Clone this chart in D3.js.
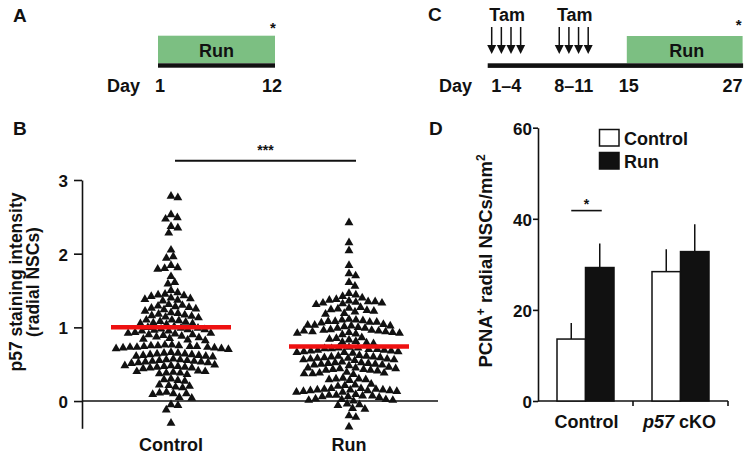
<!DOCTYPE html>
<html><head><meta charset="utf-8">
<script src="https://cdn.jsdelivr.net/npm/d3@7"></script>
<style>
body{margin:0;background:#fff}
svg{display:block}
text{font-family:"Liberation Sans",Arial,Helvetica,sans-serif;font-weight:bold;fill:#111}
</style>
</head><body>
<svg id="c" width="747" height="454"></svg>
<script>
// ---------- DATA ----------
// Panel A timeline
const runPeriodA = [1, 12];
const dayTicksA = [1, 12];
const dayLabelsA = ["1", "12"];
// Panel C timeline
const tamDaysFirst = [1, 2, 3, 4];
const tamDaysSecond = [8, 9, 10, 11];
const runPeriodC = [15, 27];
const dayTicksC = [2.5, 9.5, 15, 27];
const dayLabelsC = ["1–4", "8–11", "15", "27"];
// Panel B: p57 staining intensity (radial NSCs)
const groupsB = ["Control", "Run"];
const controlValues = [
  2.78, 2.76,
  2.53, 2.49, 2.47,
  2.37, 2.35, 2.28,
  2.05,
  1.96, 1.94,
  1.84, 1.81, 1.80, 1.79,
  1.69,
  1.61, 1.59,
  1.50, 1.47, 1.45, 1.44, 1.43,
  1.42, 1.40, 1.39, 1.38, 1.37, 1.36,
  1.31, 1.30, 1.29, 1.28, 1.27, 1.26, 1.25, 1.24, 1.22,
  1.20, 1.19, 1.18, 1.17, 1.16, 1.15, 1.14, 1.13,
  1.10, 1.10, 1.09, 1.08, 1.07, 1.06, 1.05, 1.05, 1.04,
  1.01, 1.00, 0.99, 0.99, 0.98, 0.97, 0.97, 0.96, 0.95, 0.95,
  0.93, 0.92, 0.92, 0.91, 0.90, 0.90, 0.89, 0.88,
  0.87, 0.86, 0.85, 0.84, 0.83, 0.82,
  0.76, 0.76, 0.75, 0.75, 0.75, 0.74, 0.74, 0.74, 0.73, 0.73, 0.73, 0.72, 0.72, 0.71, 0.71, 0.70,
  0.66, 0.65, 0.65, 0.64, 0.64, 0.63, 0.63, 0.62, 0.62, 0.61, 0.61, 0.60,
  0.57, 0.56, 0.56, 0.55, 0.55, 0.54, 0.54, 0.53, 0.53, 0.52, 0.52, 0.51,
  0.49, 0.48, 0.48, 0.47, 0.47, 0.46, 0.46, 0.45, 0.45, 0.44,
  0.41, 0.40, 0.40, 0.39, 0.38, 0.38, 0.37, 0.36,
  0.30, 0.29, 0.28, 0.27,
  0.22, 0.21, 0.20, 0.19, 0.18,
  0.12, 0.11, 0.10, 0.10, 0.09,
  0.05, 0.04,
  -0.05, -0.06,
  -0.12,
  -0.30
];
const runValues = [
  2.42,
  2.15, 2.04,
  1.84,
  1.73, 1.70,
  1.61, 1.56,
  1.46, 1.44, 1.42,
  1.40, 1.38,
  1.37, 1.36, 1.35, 1.35, 1.34, 1.33, 1.33, 1.32, 1.31,
  1.27, 1.26, 1.25, 1.24, 1.23, 1.22, 1.21,
  1.19, 1.18,
  1.11, 1.10, 1.10, 1.09, 1.08, 1.08, 1.07, 1.07, 1.06,
  1.04, 1.03, 1.03, 1.02, 1.02, 1.01, 1.00, 0.99, 0.99,
  0.97, 0.96, 0.96, 0.95, 0.95, 0.94, 0.94, 0.93, 0.93, 0.92, 0.92, 0.91, 0.90,
  0.86, 0.85, 0.84, 0.83,
  0.81, 0.80, 0.79, 0.78,
  0.73, 0.72, 0.72, 0.71, 0.71, 0.70, 0.70, 0.69, 0.69, 0.68, 0.68, 0.67, 0.67, 0.66, 0.66, 0.65,
  0.62, 0.61, 0.61, 0.60, 0.60, 0.59, 0.59, 0.58, 0.58, 0.57, 0.57, 0.56, 0.56, 0.55,
  0.53, 0.52, 0.52, 0.51, 0.51, 0.50, 0.50, 0.49, 0.49, 0.48,
  0.46, 0.45, 0.45, 0.44, 0.44, 0.43, 0.43, 0.42, 0.42, 0.41,
  0.39, 0.38, 0.38, 0.37, 0.37, 0.36,
  0.31, 0.30, 0.30, 0.29, 0.29, 0.28,
  0.23, 0.22, 0.21, 0.20,
  0.17, 0.17, 0.16, 0.16, 0.15, 0.15, 0.15, 0.14, 0.14, 0.14, 0.13, 0.13, 0.12, 0.12,
  0.09, 0.08, 0.08, 0.07, 0.07, 0.06, 0.06, 0.05,
  0.03, 0.02, 0.02, 0.01, 0.01, 0.00,
  -0.04, -0.05, -0.06,
  -0.10, -0.11,
  -0.20, -0.22,
  -0.35
];
const groupMeansB = [1.00, 0.74];
const yTicksB = [0, 1, 2, 3];
const sigLevelB = 3.26;
// Panel D: PCNA+ radial NSCs/mm2
const genotypes = ["Control", "p57 cKO"];
const conditions = ["Control", "Run"];
const controlMeansD = [13.6, 28.4];
const controlSemD = [3.5, 4.9];
const runMeansD = [29.3, 32.8];
const runSemD = [5.3, 6.0];
const yTicksD = [0, 20, 40, 60];
const sigLevelD = 41.8;

// ---------- DRAW ----------
const svg = d3.select("#c");
const GREEN = "#7cbf82";
const INK = "#111";

function label(x, y, t, size, anchor) {
  return svg.append("text").attr("x", x).attr("y", y)
    .attr("font-size", size).attr("text-anchor", anchor || "start").text(t);
}

// Panel letters
label(13, 22, "A", 19);
label(428, 21, "C", 19);
label(13, 135, "B", 19);
label(429, 135, "D", 19);

// ----- Panel A -----
const xA = d3.scaleLinear().domain([1, 12]).range([158, 275]);
svg.append("rect").attr("x", xA(runPeriodA[0])).attr("y", 35.7)
  .attr("width", xA(runPeriodA[1]) - xA(runPeriodA[0])).attr("height", 27.6).attr("fill", GREEN);
svg.append("rect").attr("x", xA(1)).attr("y", 63.3)
  .attr("width", xA(12) - xA(1)).attr("height", 4.4).attr("fill", INK);
label((xA(runPeriodA[0]) + xA(runPeriodA[1])) / 2, 57, "Run", 18, "middle");
label(xA(12) - 2, 33, "*", 15, "middle");
label(140, 92, "Day", 18, "end");
svg.selectAll(null).data(dayTicksA).enter().append("text")
  .attr("x", (d, i) => xA(d) + (i === 0 ? 2 : -3)).attr("y", 92)
  .attr("font-size", 18).attr("text-anchor", "middle")
  .text((d, i) => dayLabelsA[i]);

// ----- Panel C -----
const xC = d3.scaleLinear().domain([1, 27]).range([491.7, 742.6]);
svg.append("rect").attr("x", xC(runPeriodC[0])).attr("y", 36)
  .attr("width", xC(runPeriodC[1]) - xC(runPeriodC[0])).attr("height", 27.3).attr("fill", GREEN);
svg.append("rect").attr("x", xC(1) - 4).attr("y", 63.3)
  .attr("width", xC(27) + 0.5 - (xC(1) - 4)).attr("height", 4.6).attr("fill", INK);
label((xC(runPeriodC[0]) + xC(runPeriodC[1])) / 2 + 2, 57, "Run", 18, "middle");
label(xC(27) - 4, 30, "*", 15, "middle");
[tamDaysFirst, tamDaysSecond].forEach(days => {
  const mid = (xC(days[0]) + xC(days[days.length - 1])) / 2;
  label(mid + 1, 20.7, "Tam", 18, "middle");
  days.forEach(d => {
    const x = xC(d);
    svg.append("line").attr("x1", x).attr("x2", x).attr("y1", 27).attr("y2", 47)
      .attr("stroke", INK).attr("stroke-width", 1.5);
    svg.append("path").attr("d", `M${x - 4.5},45 L${x + 4.5},45 L${x},54 Z`).attr("fill", INK);
  });
});
label(472, 92, "Day", 18, "end");
svg.selectAll(null).data(dayTicksC).enter().append("text")
  .attr("x", (d, i) => xC(d) + (i === dayTicksC.length - 1 ? -10 : (i === 2 ? 2 : 0)))
  .attr("y", 92).attr("font-size", 18).attr("text-anchor", "middle")
  .text((d, i) => dayLabelsC[i]);

// ----- Panel B -----
const yB = d3.scaleLinear().domain([-0.37, 3]).range([428.3, 180]);
const xB = d3.scaleBand().domain(groupsB).range([82, 438]);
const axB = svg.append("g").attr("transform", "translate(82,0)")
  .call(d3.axisLeft(yB).tickValues(yTicksB).tickFormat(d3.format("d")).tickSize(8).tickSizeOuter(0).tickPadding(6));
axB.select(".domain").attr("stroke", INK).attr("stroke-width", 1.6);
axB.selectAll(".tick line").attr("stroke", INK).attr("stroke-width", 1.6);
axB.selectAll(".tick text").attr("font-size", 17).attr("font-family", null).attr("dy", "0.38em").attr("fill", INK);
// zero reference line
svg.append("line").attr("x1", 82).attr("x2", 438).attr("y1", yB(0)).attr("y2", yB(0))
  .attr("stroke", INK).attr("stroke-width", 1.6);

// y title
svg.append("text").attr("transform", `translate(22,282) rotate(-90)`)
  .attr("text-anchor", "middle").attr("font-size", 17.5).text("p57 staining intensity");
svg.append("text").attr("transform", `translate(38.5,282) rotate(-90)`)
  .attr("text-anchor", "middle").attr("font-size", 17.5).text("(radial NSCs)");

// beeswarm layout
function swarm(values, cx, diam) {
  const pts = values.map(v => ({ v, y: yB(v), x: 0 })).sort((a, b) => b.v - a.v);
  const placed = [];
  const d2 = diam * diam;
  pts.forEach(p => {
    const near = placed.filter(q => Math.abs(q.y - p.y) < diam);
    const cands = [0];
    near.forEach(q => {
      const dx = Math.sqrt(d2 - (q.y - p.y) ** 2);
      cands.push(q.x + dx, q.x - dx);
    });
    cands.sort((a, b) => Math.abs(a) - Math.abs(b));
    for (const c of cands) {
      if (near.every(q => (q.x - c) ** 2 + (q.y - p.y) ** 2 >= d2 - 1e-6)) { p.x = c; break; }
    }
    placed.push(p);
  });
  return pts.map(p => ({ x: cx + p.x, y: p.y, v: p.v }));
}
const tri = d3.symbol().type(d3.symbolTriangle).size(34);
[controlValues, runValues].forEach((vals, gi) => {
  const cx = xB(groupsB[gi]) + xB.bandwidth() / 2;
  const pts = swarm(vals, cx, 7.0);
  svg.append("g").selectAll("path").data(pts).enter().append("path")
    .attr("d", tri).attr("transform", d => `translate(${d.x},${d.y})`).attr("fill", INK);
});
// mean lines
groupsB.forEach((g, i) => {
  const cx = xB(g) + xB.bandwidth() / 2;
  svg.append("line").attr("x1", cx - 60).attr("x2", cx + 60)
    .attr("y1", yB(groupMeansB[i])).attr("y2", yB(groupMeansB[i]))
    .attr("stroke", "#ee1111").attr("stroke-width", 4.5);
});
// category labels
groupsB.forEach(g => label(xB(g) + xB.bandwidth() / 2, 450.5, g, 18, "middle"));
// significance
svg.append("line").attr("x1", 175).attr("x2", 356).attr("y1", yB(sigLevelB)).attr("y2", yB(sigLevelB))
  .attr("stroke", INK).attr("stroke-width", 2);
label(265.5, yB(sigLevelB) - 5.5, "***", 14, "middle");

// ----- Panel D -----
const yD = d3.scaleLinear().domain([0, 60]).range([401, 127.7]);
const xD = d3.scaleBand().domain(genotypes).range([538, 728]).paddingInner(0.4).paddingOuter(0.2);
const xSub = d3.scaleBand().domain(conditions).range([0, xD.bandwidth()]);
const axD = svg.append("g").attr("transform", "translate(538,0)")
  .call(d3.axisLeft(yD).tickValues(yTicksD).tickSize(5).tickSizeOuter(0).tickPadding(1));
axD.select(".domain").attr("stroke", INK).attr("stroke-width", 1.6);
axD.selectAll(".tick line").attr("stroke", INK).attr("stroke-width", 1.6);
axD.selectAll(".tick text").attr("font-size", 17).attr("font-family", null).attr("dy", "0.38em").attr("fill", INK);
// x axis
svg.append("line").attr("x1", 538).attr("x2", 728).attr("y1", yD(0)).attr("y2", yD(0))
  .attr("stroke", INK).attr("stroke-width", 1.6);
const step = xD.step();
[xD(genotypes[0]) + xD.bandwidth() + step * 0.2, 728].forEach(x => {
  svg.append("line").attr("x1", x).attr("x2", x).attr("y1", yD(0)).attr("y2", yD(0) + 5)
    .attr("stroke", INK).attr("stroke-width", 1.6);
});

const barsD = [];
genotypes.forEach((g, i) => {
  barsD.push({ g, c: "Control", m: controlMeansD[i], e: controlSemD[i] });
  barsD.push({ g, c: "Run", m: runMeansD[i], e: runSemD[i] });
});
// error bars (drawn first, bars on top)
svg.append("g").selectAll("line").data(barsD).enter().append("line")
  .attr("x1", d => xD(d.g) + xSub(d.c) + xSub.bandwidth() / 2)
  .attr("x2", d => xD(d.g) + xSub(d.c) + xSub.bandwidth() / 2)
  .attr("y1", d => yD(d.m)).attr("y2", d => yD(d.m + d.e))
  .attr("stroke", INK).attr("stroke-width", 1.5);
svg.append("g").selectAll("rect").data(barsD).enter().append("rect")
  .attr("x", d => xD(d.g) + xSub(d.c))
  .attr("y", d => yD(d.m))
  .attr("width", xSub.bandwidth())
  .attr("height", d => yD(0) - yD(d.m))
  .attr("fill", d => d.c === "Run" ? INK : "#fff")
  .attr("stroke", INK).attr("stroke-width", 1.5);

// significance D
const c0 = xD(genotypes[0]) + xSub("Control") + xSub.bandwidth() / 2;
const c1 = xD(genotypes[0]) + xSub("Run") + xSub.bandwidth() / 2;
svg.append("line").attr("x1", c0).attr("x2", c1 + 2).attr("y1", yD(sigLevelD)).attr("y2", yD(sigLevelD))
  .attr("stroke", INK).attr("stroke-width", 1.6);
label((c0 + c1) / 2 + 1, yD(sigLevelD) - 2, "*", 14, "middle");

// category labels D
label(xD(genotypes[0]) + xD.bandwidth() / 2 + 1, 428, "Control", 18, "middle");
const pk = svg.append("text").attr("x", xD(genotypes[1]) + xD.bandwidth() / 2 - 1).attr("y", 428)
  .attr("font-size", 18).attr("text-anchor", "middle");
pk.append("tspan").attr("font-style", "italic").text("p57");
pk.append("tspan").text(" cKO");

// legend
const legend = svg.append("g");
conditions.forEach((c, i) => {
  legend.append("rect").attr("x", 599.5).attr("y", 129.5 + i * 23).attr("width", 19.5).attr("height", 16.5)
    .attr("fill", c === "Run" ? INK : "#fff").attr("stroke", INK).attr("stroke-width", 1.5);
  legend.append("text").attr("x", 624).attr("y", 144.5 + i * 23.5).attr("font-size", 18).text(c);
});

// y title D
const tD = svg.append("text").attr("transform", "translate(492,261) rotate(-90)")
  .attr("text-anchor", "middle").attr("font-size", 18.5);
tD.append("tspan").text("PCNA");
tD.append("tspan").attr("font-size", 12).attr("dy", -7).text("+");
tD.append("tspan").attr("dy", 7).text(" radial NSCs/mm");
tD.append("tspan").attr("font-size", 12).attr("dy", -7).text("2");
</script>
</body></html>
